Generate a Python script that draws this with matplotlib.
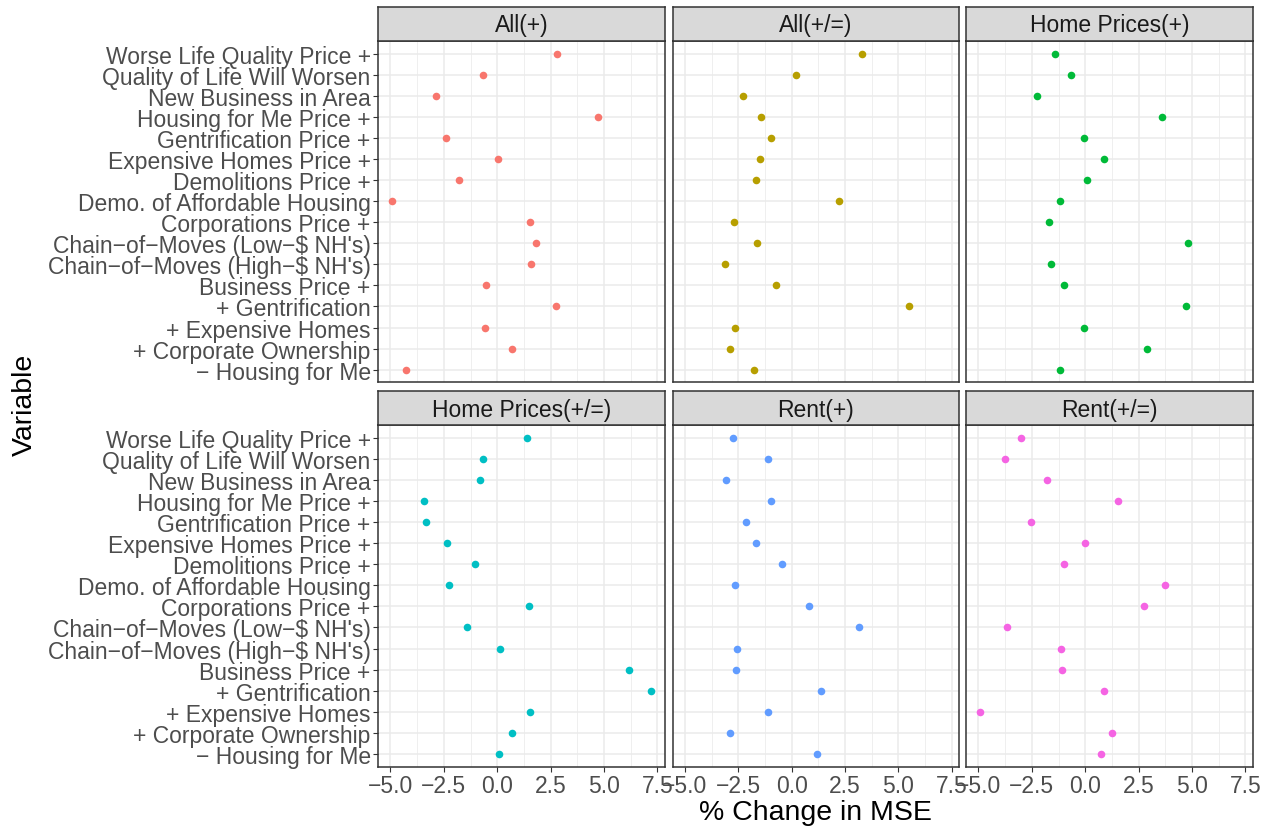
import matplotlib
matplotlib.use("Agg")
import matplotlib.pyplot as plt
from matplotlib.ticker import FixedLocator

plt.rcParams['font.family'] = ['Liberation Sans', 'DejaVu Sans']

variables = [
    "Worse Life Quality Price +",
    "Quality of Life Will Worsen",
    "New Business in Area",
    "Housing for Me Price +",
    "Gentrification Price +",
    "Expensive Homes Price +",
    "Demolitions Price +",
    "Demo. of Affordable Housing",
    "Corporations Price +",
    "Chain\u2212of\u2212Moves (Low\u2212$ NH's)",
    "Chain\u2212of\u2212Moves (High\u2212$ NH's)",
    "Business Price +",
    "+ Gentrification",
    "+ Expensive Homes",
    "+ Corporate Ownership",
    "\u2212 Housing for Me",
]

panels = ["All(+)", "All(+/=)", "Home Prices(+)", "Home Prices(+/=)", "Rent(+)", "Rent(+/=)"]

all_plus = [2.80, -0.69, -2.89, 4.73, -2.41, 0.05, -1.81, -4.95, 1.55, 1.81, 1.58, -0.55, 2.73, -0.56, 0.69, -4.27]
all_pluseq = [3.30, 0.20, -2.27, -1.44, -0.97, -1.47, -1.67, 2.22, -2.70, -1.64, -3.13, -0.75, 5.48, -2.67, -2.89, -1.75]
home_plus = [-1.40, -0.68, -2.24, 3.60, -0.07, 0.89, 0.09, -1.19, -1.68, 4.81, -1.60, -0.99, 4.70, -0.08, 2.88, -1.19]
home_pluseq = [1.38, -0.69, -0.81, -3.44, -3.34, -2.34, -1.02, -2.28, 1.50, -1.42, 0.13, 6.17, 7.22, 1.53, 0.70, 0.08]
rent_plus = [-2.77, -1.13, -3.08, -0.98, -2.16, -1.66, -0.47, -2.63, 0.81, 3.16, -2.56, -2.61, 1.38, -1.13, -2.88, 1.17]
rent_pluseq = [-3.02, -3.75, -1.77, 1.55, -2.54, -0.03, -1.00, 3.73, 2.76, -3.67, -1.14, -1.08, 0.86, -4.91, 1.25, 0.75]

series = [all_plus, all_pluseq, home_plus, home_pluseq, rent_plus, rent_pluseq]
colors = ["#F8766D", "#B79F00", "#00BA38", "#00BFC4", "#619CFF", "#F564E3"]

x_ticks = [-5.0, -2.5, 0.0, 2.5, 5.0, 7.5]
x_tick_labels = ["\u22125.0", "\u22122.5", "0.0", "2.5", "5.0", "7.5"]
x_minor = [-3.75, -1.25, 1.25, 3.75, 6.25]

W, H = 1270, 829
fig = plt.figure(figsize=(W / 100, H / 100), dpi=100)

col_left = [378.3, 672.7, 966.3]
col_w = 286.4
rows = [(7.5, 42.0, 383.3), (392.3, 426.0, 767.7)]  # strip top, panel top, panel bottom

n = len(variables)
ypos = list(range(n))[::-1]  # top category at largest y

FS = 16.5

for i, (name, vals, col) in enumerate(zip(panels, series, colors)):
    r, c = divmod(i, 3)
    st, pt, pb = rows[r]
    left = col_left[c]
    ax = fig.add_axes([left / W, 1 - pb / H, col_w / W, (pb - pt) / H])
    sax = fig.add_axes([left / W, 1 - pt / H, col_w / W, (pt - st) / H])

    ax.set_facecolor("white")
    ax.scatter(vals, ypos, s=30, color=col, zorder=3, linewidths=0)
    ax.set_xlim(-5.57, 7.84)
    ax.set_ylim(-0.6, n - 1 + 0.6)
    ax.xaxis.set_major_locator(FixedLocator(x_ticks))
    ax.xaxis.set_minor_locator(FixedLocator(x_minor))
    ax.set_yticks(ypos)
    ax.grid(True, which="major", color="#EBEBEB", linewidth=1.1, zorder=0)
    ax.grid(True, which="minor", axis="x", color="#EBEBEB", linewidth=0.55, zorder=0)
    ax.set_axisbelow(True)
    for sp in ax.spines.values():
        sp.set_color("#333333")
        sp.set_linewidth(1.1)
    ax.tick_params(which="minor", length=0)
    ax.tick_params(which="major", length=3.5, width=0.8, color="#333333",
                   labelcolor="#4D4D4D", labelsize=FS, pad=2)
    ax.set_xticklabels(x_tick_labels)
    if c == 0:
        ax.set_yticklabels(variables)
    else:
        ax.tick_params(axis="y", which="both", left=False, labelleft=False)
    if r == 0:
        ax.tick_params(axis="x", which="both", bottom=False, labelbottom=False)

    sax.set_facecolor("#D9D9D9")
    sax.set_xticks([])
    sax.set_yticks([])
    for sp in sax.spines.values():
        sp.set_color("#333333")
        sp.set_linewidth(1.1)
    sax.text(0.5, 0.47, name, ha="center", va="center", fontsize=FS,
             color="#1A1A1A", transform=sax.transAxes)

fig.text((col_left[0] + col_left[2] + col_w) / 2 / W, 1 - 813 / H, "% Change in MSE",
         ha="center", va="center", fontsize=20.5, color="black")
fig.text(25 / W, 1 - 405 / H, "Variable", ha="center", va="center", rotation=90,
         fontsize=20.5, color="black")

fig.savefig("out.png", dpi=100)
